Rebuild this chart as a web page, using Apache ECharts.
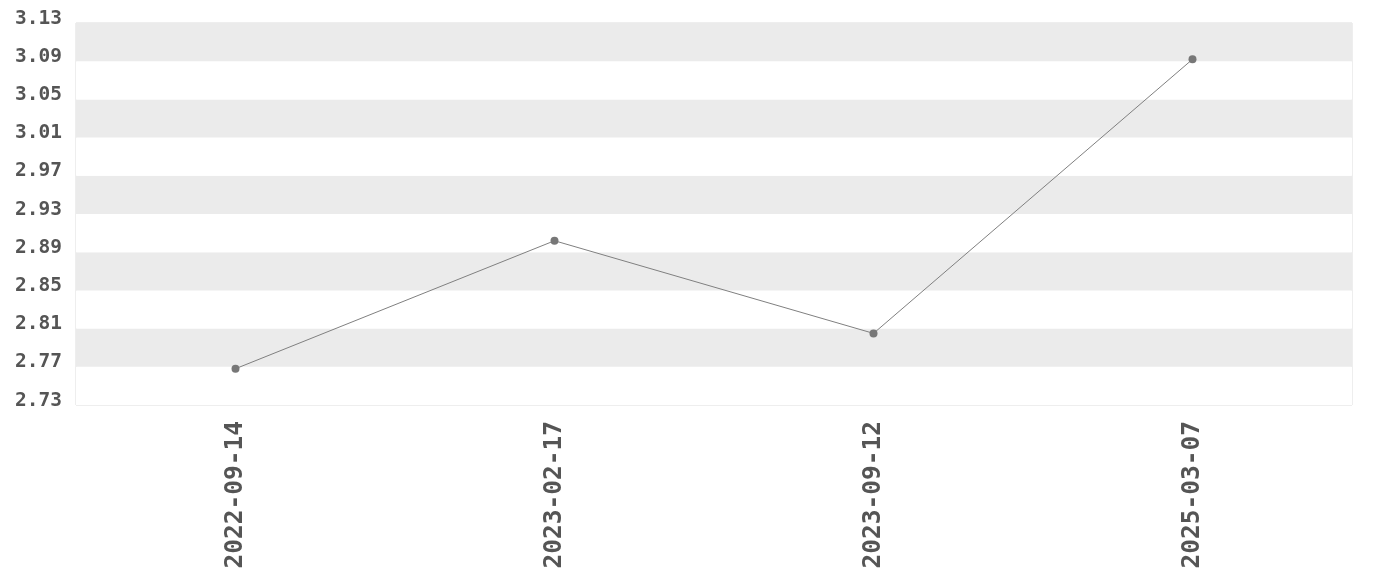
<!DOCTYPE html>
<html><head><meta charset="utf-8">
<script src="https://cdn.jsdelivr.net/npm/echarts@6/dist/echarts.min.js"></script>
<style>html,body{margin:0;padding:0;background:#fff}#c{width:1380px;height:580px}</style>
</head><body><div id="c"></div>
<script>
const categories = ['2022-09-14', '2023-02-17', '2023-09-12', '2025-03-07'];
const values = [2.768, 2.902, 2.805, 3.092];
const yMin = 2.73, yMax = 3.13, yStep = 0.04;

const chart = echarts.init(document.getElementById('c'), null, {renderer: 'canvas'});
chart.setOption({
  animation: false,
  backgroundColor: '#fff',
  grid: {left: 76, right: 28, top: 23, bottom: 175, show: true, borderColor: '#dddddd', borderWidth: 1, containLabel: false},
  xAxis: {
    type: 'category', data: categories, boundaryGap: true,
    axisLine: {show: false}, axisTick: {show: false}, splitLine: {show: false},
    axisLabel: {rotate: 90, margin: 16, fontFamily: 'DejaVu Sans Mono', fontWeight: 'bold', fontSize: 24.5, color: '#555'}
  },
  yAxis: {
    type: 'value', min: yMin, max: yMax, interval: yStep,
    axisLine: {show: false}, axisTick: {show: false}, splitLine: {show: false},
    splitArea: {show: true, areaStyle: {color: ['#ffffff', '#ebebeb']}},
    axisLabel: {margin: 14, fontFamily: 'DejaVu Sans Mono', fontWeight: 'bold', fontSize: 19.5, color: '#555',
      verticalAlign: 'bottom', lineHeight: 9, formatter: v => v.toFixed(2)}
  },
  series: [{
    type: 'line', data: values, symbol: 'circle', symbolSize: 8,
    lineStyle: {color: '#808080', width: 1}, itemStyle: {color: '#777'}
  }]
});
</script></body></html>
